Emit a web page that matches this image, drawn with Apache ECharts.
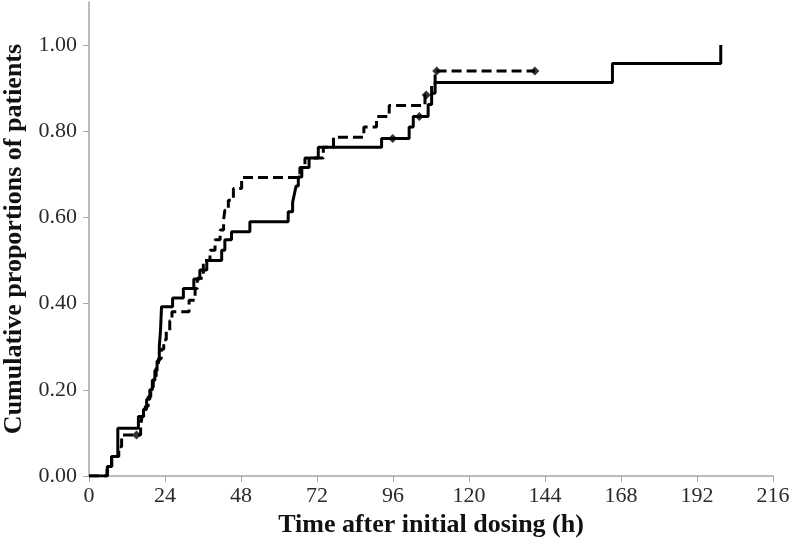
<!DOCTYPE html>
<html>
<head>
<meta charset="utf-8">
<script src="https://cdn.jsdelivr.net/npm/echarts@6/dist/echarts.min.js"></script>
<style>html,body{margin:0;padding:0;background:#fff;}#c{width:798px;height:541px;}</style>
</head>
<body>
<div id="c"></div>
<script>
// Time (h), cumulative proportion — step curves
var solidSteps = [[0,0],[5.8,0.022],[7.1,0.045],[9.1,0.111],[15.6,0.138],[17.2,0.155],[18.2,0.178],[19.2,0.2],[20,0.222],[20.8,0.245],[21.5,0.267],[22.2,0.3],[22.6,0.34],[22.9,0.393],[26.4,0.413],[29.8,0.435],[33.1,0.457],[35,0.478],[37.2,0.5],[41.9,0.524],[42.9,0.548],[45,0.567],[50.8,0.59],[62.9,0.613],[64.3,0.635],[64.9,0.656],[65.4,0.673],[66.1,0.694],[67.2,0.716],[69.5,0.738],[72.4,0.763],[92.4,0.783],[101.1,0.81],[102.4,0.834],[107.1,0.862],[108.2,0.888],[109.3,0.913],[165.3,0.957],[199.5,1.0]];
var dashedSteps = [[0,0],[5.7,0.022],[7.2,0.045],[9.4,0.068],[10.3,0.095],[16.3,0.118],[16.8,0.14],[17.8,0.162],[18.7,0.184],[19.5,0.206],[20.3,0.228],[21.2,0.25],[21.9,0.272],[22.8,0.294],[23.6,0.316],[24.4,0.335],[25.5,0.36],[26.2,0.381],[31.6,0.408],[33.5,0.435],[34.2,0.459],[36.1,0.5],[38.2,0.524],[39.8,0.548],[41.4,0.571],[42.5,0.594],[42.9,0.617],[44,0.64],[45.6,0.667],[48.2,0.693],[66.6,0.716],[68.2,0.738],[74,0.763],[77.2,0.786],[86.8,0.81],[90.8,0.834],[94.8,0.86],[106.1,0.884],[108.2,0.912],[109.3,0.94],[140.8,0.94]];
var solidCensored = [[95.9,0.783],[104.3,0.834]];
var dashedCensored = [[15,0.095],[106.5,0.884],[109.8,0.94],[140.8,0.94]];
var xTicks = [0,24,48,72,96,120,144,168,192,216];
var yTicks = [0,0.2,0.4,0.6,0.8,1.0];
var xTitle = 'Time after initial dosing (h)';
var yTitle = 'Cumulative proportions of patients';

var chart = echarts.init(document.getElementById('c'), null, {renderer:'canvas'});
var font = '"Liberation Serif", "DejaVu Serif", serif';
chart.setOption({
  animation: false,
  backgroundColor: '#ffffff',
  grid: {left: 89, right: 25, top: 2, bottom: 65, containLabel: false, outerBoundsMode: 'none'},
  xAxis: {
    type: 'value', min: 0, max: 216, interval: 24,
    axisLine: {show: true, lineStyle: {color: '#a6a6a6', width: 1.5}},
    axisTick: {show: true, length: 6, lineStyle: {color: '#a6a6a6'}, customValues: xTicks},
    axisLabel: {color: '#2a2a2a', fontFamily: font, fontSize: 22, margin: 9, customValues: xTicks},
    splitLine: {show: false},
    name: xTitle, nameLocation: 'middle', nameGap: 33,
    nameTextStyle: {color: '#111', fontFamily: font, fontSize: 26, fontWeight: 'bold', verticalAlign: 'top'}
  },
  yAxis: {
    type: 'value', min: 0, max: 1.1,
    axisLine: {show: true, lineStyle: {color: '#a6a6a6', width: 1.5}},
    axisTick: {show: true, length: 6, lineStyle: {color: '#a6a6a6'}, customValues: yTicks},
    axisLabel: {color: '#2a2a2a', fontFamily: font, fontSize: 22, margin: 12, customValues: yTicks,
      formatter: function(v){ return v.toFixed(2); }},
    splitLine: {show: false},
    name: yTitle, nameLocation: 'middle', nameGap: 61,
    nameTextStyle: {color: '#111', fontFamily: font, fontSize: 26, fontWeight: 'bold'}
  },
  series: [
    {type: 'line', step: 'end', data: solidSteps, showSymbol: false, symbol: 'none',
     lineStyle: {color: '#000', width: 3}, z: 3},
    {type: 'line', step: 'end', data: dashedSteps, showSymbol: false, symbol: 'none',
     lineStyle: {color: '#000', width: 3, type: [10, 5]}, z: 3},
    {type: 'scatter', data: solidCensored, symbol: 'diamond', symbolSize: 9,
     itemStyle: {color: '#000'}, z: 4},
    {type: 'scatter', data: dashedCensored, symbol: 'diamond', symbolSize: 9,
     itemStyle: {color: '#000'}, z: 4}
  ]
});
</script>
</body>
</html>
